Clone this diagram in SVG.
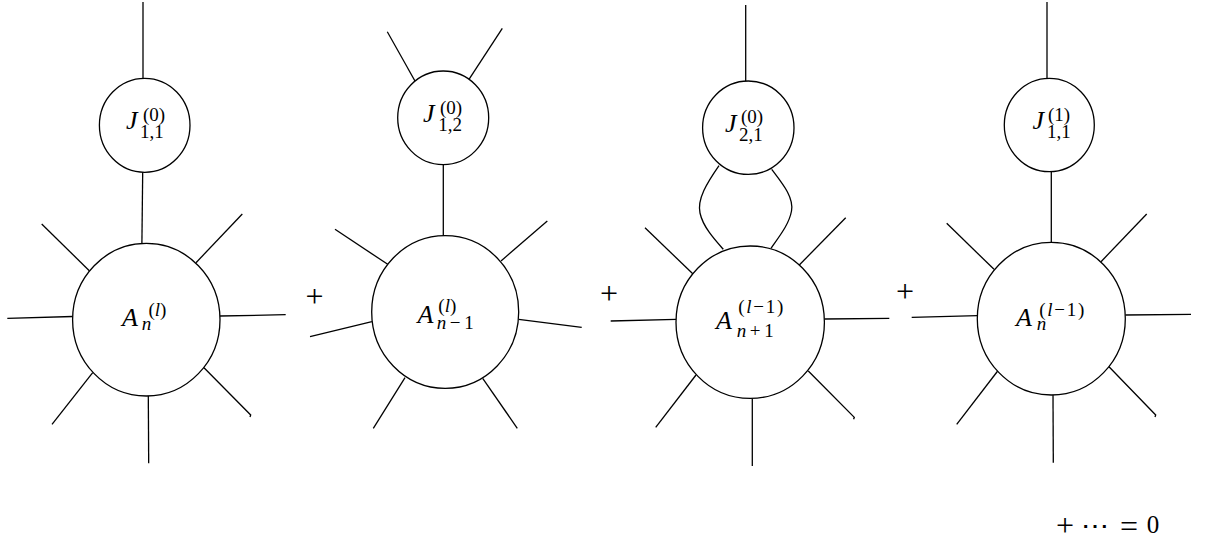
<svg xmlns="http://www.w3.org/2000/svg" width="1213" height="545" viewBox="0 0 1213 545">
<style>
  .bg{fill:#fff}
  .node{fill:#fff;stroke:#000;stroke-width:1.3}
  .edge{fill:none;stroke:#000;stroke-width:1.3;stroke-linecap:butt}
  .m{font-family:"Liberation Serif","DejaVu Serif",serif;font-size:26px;font-style:italic;fill:#000}
  .s{font-family:"Liberation Serif","DejaVu Serif",serif;font-size:19px;font-style:normal;fill:#000}
  .it{font-style:italic}
  .op{font-family:"Liberation Serif","DejaVu Serif",serif;font-size:32px;fill:#000}
  .num{font-family:"Liberation Serif","DejaVu Serif",serif;font-size:25px;fill:#000}
</style>
<rect class="bg" x="0" y="0" width="1213" height="545"/>

<g id="connectors">
  <!-- panel 1 -->
  <line class="edge" x1="143" y1="2" x2="143" y2="78.5"/>
  <line class="edge" x1="142.7" y1="172" x2="141.9" y2="243.5"/>
  <line class="edge" x1="41.7" y1="224" x2="89.3" y2="270.7"/>
  <line class="edge" x1="242.3" y1="214" x2="196" y2="262.7"/>
  <line class="edge" x1="7.3" y1="318.3" x2="72.7" y2="316.5"/>
  <line class="edge" x1="220" y1="316" x2="285.7" y2="314.7"/>
  <line class="edge" x1="92.7" y1="372.7" x2="52" y2="424.3"/>
  <line class="edge" x1="148.3" y1="396" x2="148.7" y2="463.3"/>
  <polyline class="edge" points="204,367.7 250.7,415 250,417"/>
  <!-- panel 2 -->
  <line class="edge" x1="387.3" y1="31.7" x2="415" y2="81"/>
  <line class="edge" x1="502.3" y1="28.3" x2="469" y2="79.3"/>
  <line class="edge" x1="443.3" y1="164.7" x2="443.3" y2="235.9"/>
  <line class="edge" x1="335" y1="229.3" x2="387.7" y2="264.3"/>
  <line class="edge" x1="547.3" y1="221" x2="501" y2="261"/>
  <line class="edge" x1="310" y1="336.7" x2="371.9" y2="321.7"/>
  <line class="edge" x1="518.7" y1="319.3" x2="581.7" y2="327.3"/>
  <line class="edge" x1="405" y1="377.7" x2="373.3" y2="428.3"/>
  <line class="edge" x1="482.7" y1="378.3" x2="517.3" y2="428.3"/>
  <!-- panel 3 -->
  <line class="edge" x1="745.7" y1="5" x2="745.7" y2="81.2"/>
  <path class="edge" d="M719,165.7 C707,183 697,199 700,213 C703,227 715,240 723.3,249.3"/>
  <path class="edge" d="M771.7,169.3 C782,183 794,197 791.5,211 C789,225 778,238 771,248.3"/>
  <line class="edge" x1="645" y1="227.7" x2="693.3" y2="274.3"/>
  <line class="edge" x1="845.7" y1="217.7" x2="799.3" y2="265"/>
  <line class="edge" x1="610.7" y1="321" x2="676.2" y2="319.3"/>
  <line class="edge" x1="824.3" y1="319" x2="889.3" y2="318.3"/>
  <line class="edge" x1="696" y1="375" x2="655.7" y2="427.3"/>
  <polyline class="edge" points="808.3,371 854.3,417.3 853.6,419.3"/>
  <line class="edge" x1="752.3" y1="398.4" x2="752.3" y2="466"/>
  <!-- panel 4 -->
  <line class="edge" x1="1047" y1="2" x2="1047" y2="78.5"/>
  <line class="edge" x1="1051.3" y1="171.7" x2="1051.3" y2="242.5"/>
  <line class="edge" x1="946.7" y1="223.3" x2="994" y2="269.3"/>
  <line class="edge" x1="1146.7" y1="214" x2="1101" y2="261.7"/>
  <line class="edge" x1="911.7" y1="317.3" x2="977.5" y2="315.7"/>
  <line class="edge" x1="1125.3" y1="315" x2="1191" y2="314.3"/>
  <line class="edge" x1="997.7" y1="371" x2="956.7" y2="424.3"/>
  <polyline class="edge" points="1109,366.7 1155.7,415 1155,417"/>
  <line class="edge" x1="1053" y1="395" x2="1053.3" y2="462.7"/>
</g>

<!-- panel 1 nodes -->
<g id="J11_0">
  <ellipse class="node" cx="144.7" cy="125.3" rx="45.3" ry="47"/>
  <text class="m" x="126" y="129.3">J</text>
  <text class="s" x="143" y="121">(0)</text>
  <text class="s" x="140" y="138.3">1,1</text>
</g>
<g id="A_n_l">
  <ellipse class="node" cx="146.3" cy="319.7" rx="73.7" ry="76.3"/>
  <text class="m" x="122" y="326">A</text>
  <text class="s" x="148.5" y="316"><tspan>(</tspan><tspan class="it">l</tspan><tspan>)</tspan></text>
  <text class="s it" x="141.7" y="330">n</text>
</g>

<!-- panel 2 nodes -->
<g id="J12_0">
  <ellipse class="node" cx="443.2" cy="117.8" rx="45.5" ry="46.8"/>
  <text class="m" x="423" y="121.8">J</text>
  <text class="s" x="440" y="113.5">(0)</text>
  <text class="s" x="438.3" y="130.7">1,2</text>
</g>
<g id="A_nm1_l">
  <ellipse class="node" cx="445.2" cy="312" rx="73.5" ry="76.3"/>
  <text class="m" x="417.5" y="322.5">A</text>
  <text class="s" x="438.3" y="311.5"><tspan>(</tspan><tspan class="it">l</tspan><tspan>)</tspan></text>
  <text class="s" x="436.7" y="328.5" textLength="37" lengthAdjust="spacing"><tspan class="it">n</tspan><tspan>−1</tspan></text>
</g>

<!-- panel 3 nodes -->
<g id="J21_0">
  <ellipse class="node" cx="748.3" cy="127.7" rx="45.7" ry="46.7"/>
  <text class="m" x="725" y="131.7">J</text>
  <text class="s" x="741" y="123.4">(0)</text>
  <text class="s" x="739" y="140.7">2,1</text>
</g>
<g id="A_np1_lm1">
  <ellipse class="node" cx="750.2" cy="322.2" rx="74.2" ry="76.2"/>
  <text class="m" x="716" y="329">A</text>
  <text class="s" x="738.3" y="313" textLength="45" lengthAdjust="spacing"><tspan>(</tspan><tspan class="it">l</tspan><tspan>−1)</tspan></text>
  <text class="s" x="736.7" y="336.5" textLength="37" lengthAdjust="spacing"><tspan class="it">n</tspan><tspan>+1</tspan></text>
</g>

<!-- panel 4 nodes -->
<g id="J11_1">
  <ellipse class="node" cx="1049.3" cy="125" rx="45" ry="46.7"/>
  <text class="m" x="1032.5" y="129">J</text>
  <text class="s" x="1048" y="120.7">(1)</text>
  <text class="s" x="1047" y="138">1,1</text>
</g>
<g id="A_n_lm1">
  <ellipse class="node" cx="1051.3" cy="318.7" rx="74" ry="76.3"/>
  <text class="m" x="1016" y="326">A</text>
  <text class="s" x="1039.3" y="315.5" textLength="45" lengthAdjust="spacing"><tspan>(</tspan><tspan class="it">l</tspan><tspan>−1)</tspan></text>
  <text class="s it" x="1036.7" y="330">n</text>
</g>

<!-- operators -->
<g id="operators">
  <text class="op" x="314.5" y="307" text-anchor="middle">+</text>
  <text class="op" x="609" y="304" text-anchor="middle">+</text>
  <text class="op" x="905" y="302" text-anchor="middle">+</text>
  <text class="op" x="1065" y="535.6" text-anchor="middle">+</text>
  <text class="num" x="1081" y="533.5" textLength="28" lengthAdjust="spacingAndGlyphs">⋯</text>
  <text class="op" x="1129" y="536.5" text-anchor="middle">=</text>
  <text class="num" x="1153" y="533.3" text-anchor="middle">0</text>
</g>
</svg>
